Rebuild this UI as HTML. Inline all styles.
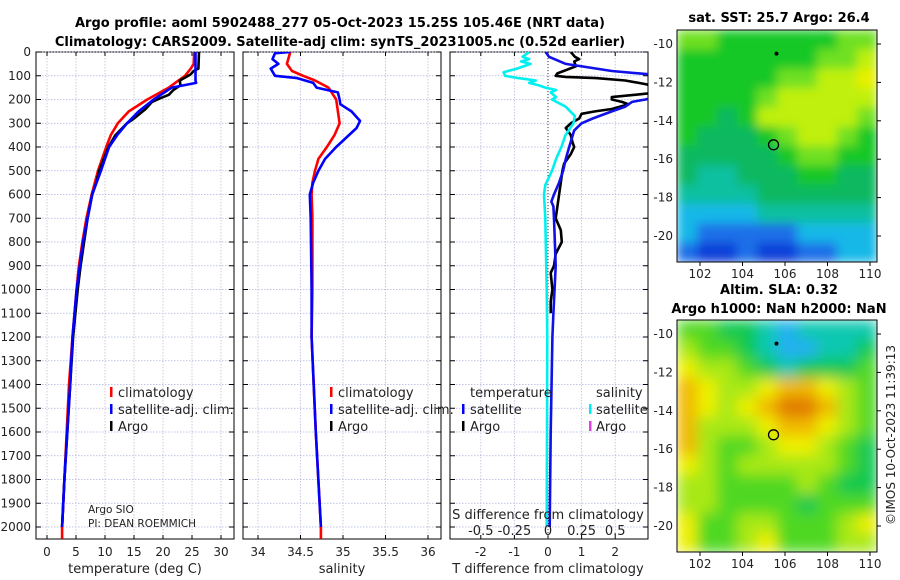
<!DOCTYPE html>
<html><head><meta charset="utf-8"><style>
body{margin:0;background:#fff;}
svg{display:block;font-family:"DejaVu Sans","Liberation Sans",sans-serif;}
</style></head><body>
<svg id="fig" width="900" height="580" viewBox="0 0 900 580" xmlns="http://www.w3.org/2000/svg">
<text x="340" y="27" font-size="13" font-weight="bold" text-anchor="middle">Argo profile: aoml 5902488_277 05-Oct-2023 15.25S 105.46E (NRT data)</text>
<text x="340" y="46" font-size="13" font-weight="bold" text-anchor="middle">Climatology: CARS2009. Satellite-adj clim: synTS_20231005.nc (0.52d earlier)</text>
<text x="779" y="22" font-size="13" font-weight="bold" text-anchor="middle">sat. SST: 25.7 Argo: 26.4</text>
<text x="779" y="294" font-size="13" font-weight="bold" text-anchor="middle">Altim. SLA: 0.32</text>
<text x="779" y="313" font-size="13" font-weight="bold" text-anchor="middle">Argo h1000: NaN h2000: NaN</text>
<text transform="translate(895,435) rotate(-90)" font-size="12" text-anchor="middle" fill="#222">©IMOS 10-Oct-2023 11:39:13</text>
<g id="g"></g>
</svg>
<script>
// ---- data ----
const depthTemp = [0,50,70,100,150,200,250,300,350,400,500,600,700,800,900,1000,1200,1400,1600,1800,2000,2050];
const tempClim =  [25.4,25.3,24.8,23.8,21,17.3,14.1,12.2,11,10.2,8.8,7.7,6.8,6.1,5.5,5.1,4.4,3.8,3.4,3.0,2.6,2.6];
const depthSat = [0,120,130,150,200,250,300,350,400,500,600,700,800,1000,1200,1400,1600,1800,2000];
const tempSat =  [25.6,25.6,25.7,21.5,18.4,15.8,13.8,12.1,10.7,9.3,7.8,7.0,6.2,5.1,4.4,4.0,3.5,3.0,2.6];
const depthArgo = [0,70,80,95,120,140,160,180,195,210,240,280,300,350,400,500,550,600,700,900,1000,1200,1400,1600,1800,2000];
const tempArgo =  [26.2,26.1,25.3,24.7,22.9,23.0,21.8,21,19.5,18.1,17,15,13.8,11.8,10.6,9,8.5,7.8,7.0,5.8,5.3,4.5,4.0,3.5,3.0,2.6];
const depthSalClim = [0,50,80,100,120,150,200,250,300,350,400,450,500,550,600,700,1000,1200,1600,2000,2050];
const salClim = [34.38,34.34,34.40,34.53,34.67,34.83,34.92,34.94,34.96,34.90,34.81,34.71,34.67,34.64,34.63,34.64,34.64,34.63,34.68,34.74,34.74];
const depthSalSat = [0,5,30,50,70,100,110,130,150,170,200,220,250,290,320,400,450,500,550,600,700,1000,1200,1600,2000];
const salSat = [34.38,34.2,34.17,34.24,34.15,34.2,34.46,34.65,34.69,34.94,34.96,34.97,35.1,35.2,35.16,34.92,34.79,34.71,34.65,34.61,34.62,34.63,34.63,34.68,34.74];
const depthTdiffSat = [0,20,50,80,100,120,150,190,200,210,230,250,280,300,330,400,450,500,550,600,630,650,700,900,1100,1200,1600,2000];
const tdiffSat = [-0.07,0.03,0.53,1.9,3.5,4,4,3.2,2.9,2.5,2.3,1.9,1.33,1.0,0.78,0.63,0.53,0.45,0.33,0.18,0.1,0.16,0.18,0.23,0.16,0.13,0.08,0.05];
const depthTdiffArgo = [0,20,30,40,60,90,100,105,110,120,135,150,170,190,200,210,220,240,250,260,280,300,320,350,380,400,430,470,500,550,600,650,700,750,800,850,900,930,1000,1050,1100];
const tdiffArgo = [0.68,0.8,0.93,0.78,0.83,0.28,0.23,0.53,1.43,2.3,2.9,3.3,3.3,1.9,1.9,2.2,2.4,1.9,1.4,1.0,0.93,0.68,0.53,0.68,0.73,0.78,0.68,0.48,0.43,0.38,0.33,0.28,0.23,0.38,0.41,0.23,0.18,0.08,0.13,0.08,0.08];
const depthSdiffSat = [0,20,30,40,50,70,85,100,110,120,130,140,150,160,170,190,200,230,270,300,350,400,450,500,560,600,700,1000,1200,2000];
const sdiffSat = [-0.14,-0.19,-0.14,-0.2,-0.13,-0.23,-0.33,-0.32,-0.22,-0.09,-0.14,-0.07,-0.02,0.06,0.02,0.06,0.03,0.13,0.2,0.19,0.13,0.1,0.06,0.03,-0.02,-0.03,-0.02,-0.01,-0.005,-0.01];
const depthTicks = [0,100,200,300,400,500,600,700,800,900,1000,1100,1200,1300,1400,1500,1600,1700,1800,1900,2000];
const tempTicks = [0,5,10,15,20,25,30];
const salTicks = [34,34.5,35,35.5,36];
const tdiffTicks = [-2,-1,0,1,2];
const sdiffTickLabels = ["-0.5","-0.25","0","0.25","0.5"];
const sdiffTicks = [-0.5,-0.25,0,0.25,0.5];
const lonTicks = [102,104,106,108,110];
const latTicks = [-10,-12,-14,-16,-18,-20];
const sstGrid = [
[7,7,6,6,6,6,6,6,7,7],[6,6,6,6,6,6,6,7,7,8],[6,6,6,6,6,7,7,8,8,9],[6,6,6,6,7,8,8,8,8,8],
[6,6,5,6,8,8,8,8,8,7],[6,5,5,5,6,7,8,8,7,6],[5,5,5,5,5,6,7,7,6,6],[5,4,4,5,5,5,6,6,5,5],
[4,4,4,4,5,5,5,5,5,5],[3,3,3,3,4,4,4,4,4,4],[3,2,2,2,2,2,3,3,3,3],[2,1,1,2,1,1,2,2,3,3]];
const slaGrid = [
[6,6,5,5,4,3,4,4,4,4],[7,6,6,5,4,3,3,4,4,5],[8,7,7,6,5,4,5,5,5,6],[9,8,7,7,8,9,9,8,7,6],
[9,8,7,8,9,10,10,9,7,6],[9,7,7,7,8,9,9,8,7,6],[9,7,6,6,7,8,8,7,6,5],[8,7,6,7,7,7,7,7,6,5],
[7,7,6,6,6,6,7,6,5,5],[7,7,6,6,6,6,5,6,6,6],[8,6,6,7,7,6,6,6,7,8],[8,6,6,7,8,6,6,6,7,7]];
const floatLon = 105.46, floatLat = -15.25;
const prevLon = 105.6, prevLat = -10.5;

// ---- helpers ----
const NS="http://www.w3.org/2000/svg";
const G=document.getElementById('g');
function el(tag,attrs,parent){const e=document.createElementNS(NS,tag);for(const k in attrs)e.setAttribute(k,attrs[k]);(parent||G).appendChild(e);return e;}
const PT=52, PB=539;
const yD=d=>PT+d*(527-PT)/2000;
const panels=[{x0:36,x1:234},{x0:243,x1:441},{x0:450,x1:648}];
const xT=v=>47+v*(221-47)/30;
const xS=v=>258+(v-34)*(428-258)/2;
const xTd=v=>548+v*33.6;
const xSd=v=>548+v*4*33.6;

function frame(p,xticks,xf,name){
  const f=el('rect',{x:p.x0,y:PT,width:p.x1-p.x0,height:PB-PT,fill:'none',stroke:'#000','stroke-width':1});
  
  
  depthTicks.forEach(d=>{const y=yD(d);
    const l=el('line',{x1:p.x0,x2:p.x1,y1:y,y2:y,stroke:'#aab4e0','stroke-width':0.8,'stroke-dasharray':'1.5,1.5'});
    
    
    el('line',{x1:p.x0,x2:p.x0+5,y1:y,y2:y,stroke:'#000'});
    el('line',{x1:p.x1-5,x2:p.x1,y1:y,y2:y,stroke:'#000'});
  });
  xticks.forEach(v=>{const x=xf(v);
    const l=el('line',{x1:x,x2:x,y1:PT,y2:PB,stroke:'#c8b8d8','stroke-width':0.8,'stroke-dasharray':'1.5,1.5'});
    
    
    el('line',{x1:x,x2:x,y1:PB-4,y2:PB,stroke:'#000'});
    el('line',{x1:x,x2:x,y1:PT,y2:PT+4,stroke:'#000'});
  });
}
function line(xs,ds,xf,color,name,w){
  const pts=xs.map((v,i)=>xf(v).toFixed(1)+','+yD(ds[i]).toFixed(1)).join(' ');
  const l=el('polyline',{points:pts,fill:'none',stroke:color,'stroke-width':w||2.6,'stroke-linejoin':'round'});
  
  
  return l;
}
function text(x,y,s,opts,name){
  const t=el('text',Object.assign({x:x,y:y,'font-size':12,fill:'#222'},opts||{}));
  t.textContent=s;
  
  
  return t;
}
const defs=el('defs',{});
panels.forEach((p,i)=>{const c=el('clipPath',{id:'c'+i},defs);el('rect',{x:p.x0,y:PT,width:p.x1-p.x0,height:PB-PT},c);});

depthTicks.forEach(d=>text(31,yD(d)+4,String(d),{'text-anchor':'end'},'depth-tick-label'));

// Panel 1
frame(panels[0],tempTicks,xT,'temperature-panel');
const g1=el('g',{'clip-path':'url(#c0)'});
[ [tempClim,depthTemp,'#ff0000','temp-climatology-line'],[tempArgo,depthArgo,'#000','temp-argo-line'],[tempSat,depthSat,'#0000ff','temp-satellite-line'] ].forEach(a=>g1.appendChild(line(a[0],a[1],xT,a[2],a[3])));
tempTicks.forEach(v=>text(xT(v),556,String(v),{'text-anchor':'middle'},'temp-tick-label'));
text(135,573,'temperature (deg C)',{'text-anchor':'middle','font-size':13},'temp-axis-title');
// Panel 2
frame(panels[1],salTicks,xS,'salinity-panel');
const g2=el('g',{'clip-path':'url(#c1)'});
g2.appendChild(line(salClim,depthSalClim,xS,'#ff0000','sal-climatology-line'));
g2.appendChild(line(salSat,depthSalSat,xS,'#0000ff','sal-satellite-line'));
salTicks.forEach(v=>text(xS(v),556,String(v),{'text-anchor':'middle'},'sal-tick-label'));
text(342,573,'salinity',{'text-anchor':'middle','font-size':13},'sal-axis-title');
// Panel 3
frame(panels[2],tdiffTicks,xTd,'difference-panel');
const z=el('line',{x1:548,x2:548,y1:PT,y2:PB,stroke:'#333','stroke-dasharray':'1,2'});


const g3=el('g',{'clip-path':'url(#c2)'});
g3.appendChild(line(tdiffArgo,depthTdiffArgo,xTd,'#000','tdiff-argo-line'));
g3.appendChild(line(sdiffSat,depthSdiffSat,xSd,'#00f0f0','sdiff-satellite-line'));
g3.appendChild(line(tdiffSat,depthTdiffSat,xTd,'#1010e8','tdiff-satellite-line'));
tdiffTicks.forEach(v=>text(xTd(v),556,String(v),{'text-anchor':'middle'},'tdiff-tick-label'));
sdiffTicks.forEach((v,i)=>text(xSd(v),535,sdiffTickLabels[i],{'text-anchor':'middle','font-size':13},'sdiff-tick-label'));
text(548,519,'S difference from climatology',{'text-anchor':'middle','font-size':13},'sdiff-axis-title');
text(548,573,'T difference from climatology',{'text-anchor':'middle','font-size':13},'tdiff-axis-title');

// legends
function legItem(mx,tx,y,color,label,name){
  const m=el('rect',{x:mx,y:y-10,width:2.5,height:10,fill:color});
  
  
  text(tx,y,label,{'font-size':13},name);
}
[[397,'#ff0000','climatology'],[414,'#0000ff','satellite-adj. clim.'],[431,'#000','Argo']].forEach(r=>{
  legItem(110,118,r[0],r[1],r[2],'temp-legend-entry');
  legItem(330,338,r[0],r[1],r[2],'sal-legend-entry');
});
text(470,397,'temperature',{'font-size':13},'tdiff-legend-header');
text(596,397,'salinity',{'font-size':13},'sdiff-legend-header');
legItem(462,470,414,'#0000ff','satellite','tdiff-legend-entry');
legItem(462,470,431,'#000','Argo','tdiff-legend-entry');
legItem(589,596,414,'#00f0f0','satellite','sdiff-legend-entry');
legItem(589,596,431,'#e040e0','Argo','sdiff-legend-entry');
text(88,513,'Argo SIO',{'font-size':10.5},'argo-source-label');
text(88,527,'PI: DEAN ROEMMICH',{'font-size':10.5},'pi-label');

// maps
const sstColors=['#0020a0','#0a40d8','#1f70e8','#18b8e8','#10c0a0','#10b860','#14c828','#70e020','#c0f010','#e8f000','#f0d000'];
const slaColors=['#0020a0','#1040e0','#2080f0','#20b0f0','#10c8b0','#10c850','#50d820','#a8e818','#eef000','#f0b800','#e07800'];
function map(y0,grid,colors,name,blur){
  const X0=677,X1=877,Y0=y0,Y1=y0+232;
  const lonX=l=>700+(l-102)*21.25;
  const latY=la=>Y0+14+(-10-la)*19.2;
  const rows=grid.length, cols=grid[0].length;
  const cw=(X1-X0)/cols, ch=(Y1-Y0)/rows;
  const fid='f'+name;
  const flt=el('filter',{id:fid,filterUnits:'userSpaceOnUse',x:X0,y:Y0,width:X1-X0,height:Y1-Y0},defs);
  el('feGaussianBlur',{stdDeviation:blur,edgeMode:'duplicate'},flt);
  const cg=el('g',{filter:'url(#'+fid+')'});
  grid.forEach((r,i)=>r.forEach((v,j)=>{
    const c=el('rect',{x:X0+j*cw,y:Y0+i*ch,width:cw+0.5,height:ch+0.5,fill:colors[v]},cg);
    
    
  }));
  const f=el('rect',{x:X0,y:Y0,width:X1-X0,height:Y1-Y0,fill:'none',stroke:'#000'});
  
  
  lonTicks.forEach(l=>{const x=lonX(l);el('line',{x1:x,x2:x,y1:Y1,y2:Y1+4,stroke:'#000'});text(x,Y1+16,String(l),{'text-anchor':'middle'},name+'-lon-label');});
  latTicks.forEach(la=>{const y=latY(la);el('line',{x1:X1,x2:X1+4,y1:y,y2:y,stroke:'#000'});text(673,y+4,String(la),{'text-anchor':'end'},name+'-lat-label');});
  const d=el('circle',{cx:lonX(prevLon),cy:latY(prevLat),r:2,fill:'#000'});
  
  
  const c=el('circle',{cx:lonX(floatLon),cy:latY(floatLat),r:5,fill:'none',stroke:'#000','stroke-width':1.3});
  
  
}
map(30,sstGrid,sstColors,'sst-map',5);
map(320,slaGrid,slaColors,'sla-map',7);
</script>
</body></html>
